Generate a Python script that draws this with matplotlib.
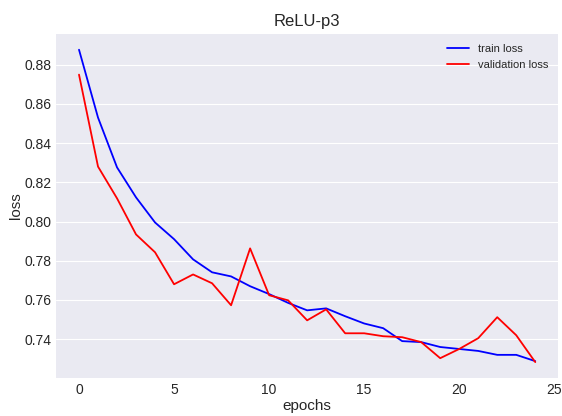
import numpy as np
import matplotlib
matplotlib.use("Agg")
import matplotlib.pyplot as plt

epochs = list(range(25))
train_loss = [0.8876, 0.853, 0.8276, 0.8123, 0.7995, 0.791, 0.7807, 0.7741, 0.772,
              0.767, 0.763, 0.7585, 0.7547, 0.7557, 0.7517, 0.748, 0.7456, 0.739,
              0.7385, 0.736, 0.735, 0.734, 0.732, 0.732, 0.7288]
val_loss = [0.8749, 0.828, 0.8118, 0.7934, 0.7843, 0.768, 0.773, 0.7685, 0.7573,
            0.7863, 0.7624, 0.7598, 0.7496, 0.7552, 0.743, 0.743, 0.7415, 0.741,
            0.7385, 0.7303, 0.735, 0.7405, 0.7512, 0.742, 0.7283]

plt.style.use("seaborn-v0_8-darkgrid")
plt.rcParams['font.family'] = ['Liberation Sans', 'DejaVu Sans']

fig = plt.figure(figsize=(5.62, 4.16), dpi=100)
plt.plot(epochs, train_loss, color='blue', label='train loss', linewidth=1.3)
plt.plot(epochs, val_loss, color='red', label='validation loss', linewidth=1.3)
plt.title('ReLU-p3', fontsize=12)
plt.xlabel('epochs', fontsize=11, labelpad=2)
plt.ylabel('loss', fontsize=11, labelpad=1)
plt.xticks(fontsize=10)
plt.yticks(fontsize=10)
plt.grid(axis='x', visible=False)
plt.legend(loc='upper right', fontsize=8)
plt.subplots_adjust(left=0.1, right=0.993, top=0.918, bottom=0.092)
plt.savefig('out.png')
